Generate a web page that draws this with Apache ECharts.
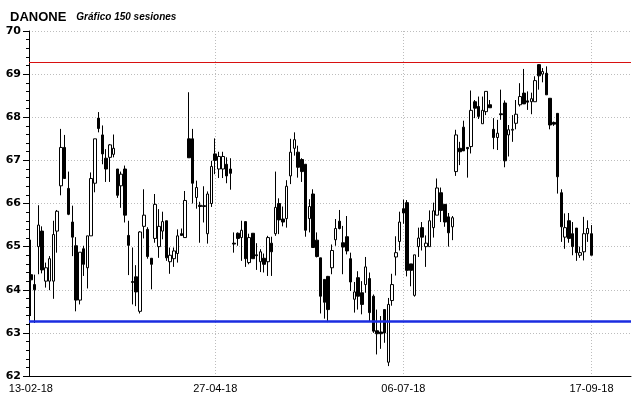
<!DOCTYPE html>
<html>
<head>
<meta charset="utf-8">
<script src="https://cdn.jsdelivr.net/npm/echarts@6/dist/echarts.min.js"></script>
<style>
  html, body { margin: 0; padding: 0; background: #fff; }
  #chart { width: 640px; height: 398px; }
</style>
</head>
<body>
<div id="chart"></div>
<script>
// 150 sesiones, DANONE
const opens = [
  64.35, 64.12, 65.0, 65.36, 64.2, 64.2, 64.2, 65.36, 66.41, 67.3,
  66.35, 65.57, 65.02, 63.76, 64.95, 64.51, 65.25, 66.47, 67.98, 67.59,
  67.05, 67.07, 67.14, 66.8, 66.41, 66.8, 65.26, 64.19, 64.3, 63.5,
  65.47, 65.4, 64.73, 65.19, 65.0, 65.36, 65.6, 64.65, 64.72, 64.84,
  65.3, 65.21, 67.5, 67.5, 66.14, 65.96, 65.95, 65.3, 66.0, 67.15,
  66.8, 66.8, 66.91, 66.8, 65.08, 65.31, 65.21, 65.58, 64.63, 65.31,
  64.81, 64.65, 64.73, 64.65, 65.08, 65.3, 66.0, 65.64, 65.65, 66.64,
  67.28, 67.19, 67.02, 66.91, 65.65, 66.22, 65.15, 64.74, 64.24, 64.31,
  64.51, 65.16, 65.59, 65.09, 65.23, 64.72, 63.78, 64.28, 63.93, 64.12,
  64.26, 63.85, 63.05, 63.02, 63.54, 62.32, 63.75, 64.76, 65.12, 65.88,
  66.02, 64.6, 63.87, 65.0, 65.44, 65.0, 65.0, 65.44, 65.73, 66.25,
  65.98, 65.69, 65.46, 66.74, 67.28, 67.77, 67.3, 67.32, 68.36, 68.25,
  67.85, 68.13, 68.29, 67.72, 67.53, 68.08, 68.33, 67.59, 67.7, 67.86,
  68.29, 68.56, 68.38, 68.36, 68.36, 69.22, 69.0, 69.02, 68.44, 67.88,
  68.09, 66.25, 65.22, 65.6, 65.3, 65.43, 64.8, 64.88, 65.3, 65.3
];
const closes = [
  64.23, 64.0, 65.5, 64.46, 64.51, 64.72, 65.28, 65.82, 67.3, 66.58,
  65.75, 65.22, 63.76, 64.87, 64.59, 65.25, 66.58, 67.5, 67.74, 67.15,
  66.8, 67.36, 67.28, 66.19, 66.68, 65.73, 65.03, 64.17, 63.95, 65.34,
  65.73, 64.77, 64.59, 65.98, 65.47, 65.58, 64.74, 64.8, 64.9, 65.25,
  65.26, 66.07, 67.06, 66.47, 66.37, 65.93, 65.93, 66.22, 66.86, 67.0,
  67.09, 67.09, 66.64, 66.7, 65.06, 65.19, 65.38, 64.72, 65.21, 64.72,
  64.79, 64.88, 64.59, 65.21, 64.88, 65.91, 65.62, 65.57, 66.4, 67.19,
  67.48, 66.84, 66.74, 65.38, 65.93, 64.98, 64.77, 63.85, 63.71, 63.54,
  64.91, 65.42, 65.42, 64.99, 64.9, 64.18, 63.95, 63.85, 63.66, 64.53,
  63.47, 63.04, 62.98, 62.98, 63.0, 63.66, 64.12, 64.86, 65.57, 65.78,
  64.45, 64.45, 64.81, 65.2, 65.22, 65.08, 65.6, 65.83, 66.36, 65.84,
  65.57, 65.32, 65.67, 67.59, 67.2, 67.22, 67.27, 68.16, 68.21, 68.02,
  68.16, 68.6, 68.22, 67.53, 67.63, 68.06, 66.99, 67.71, 67.72, 68.07,
  68.48, 68.31, 68.35, 68.43, 68.85, 68.96, 69.06, 68.52, 67.82, 67.84,
  66.62, 65.46, 65.44, 65.19, 65.0, 64.86, 64.86, 65.3, 65.42, 64.8
];
const lows = [
  63.39, 63.23, 64.36, 64.38, 64.05, 63.99, 63.79, 64.86, 66.19, 66.57,
  65.73, 64.78, 63.5, 63.66, 64.32, 64.03, 65.25, 66.26, 67.65, 66.91,
  66.5, 66.5, 67.07, 66.13, 65.9, 65.56, 64.34, 63.66, 63.62, 63.45,
  65.19, 64.72, 64.01, 65.09, 64.74, 65.17, 64.67, 64.37, 64.53, 64.63,
  65.26, 65.21, 67.06, 66.0, 65.88, 65.09, 65.56, 65.07, 65.92, 66.68,
  66.59, 66.59, 66.47, 66.32, 64.86, 65.02, 64.67, 64.53, 64.59, 64.72,
  64.46, 64.41, 64.4, 64.32, 64.32, 65.25, 65.29, 65.47, 65.44, 66.45,
  67.11, 66.6, 66.5, 65.23, 65.33, 64.98, 64.75, 63.45, 63.33, 63.25,
  64.36, 65.02, 65.4, 64.36, 64.82, 63.97, 63.47, 63.54, 63.43, 63.93,
  63.27, 63.0, 62.5, 62.63, 62.77, 62.23, 63.63, 64.33, 64.91, 65.53,
  64.31, 64.08, 63.84, 64.76, 64.91, 64.53, 65.0, 65.21, 65.73, 65.57,
  65.46, 65.0, 65.15, 66.64, 66.89, 67.22, 66.6, 67.16, 67.98, 67.96,
  67.85, 68.05, 68.22, 67.26, 67.24, 67.94, 66.84, 67.09, 67.43, 67.72,
  68.25, 68.31, 68.17, 68.07, 68.36, 68.64, 68.81, 68.52, 67.72, 67.8,
  66.23, 65.11, 64.95, 65.09, 64.8, 64.67, 64.74, 64.68, 65.11, 64.8
];
const highs = [
  65.16, 64.35, 65.96, 65.47, 64.63, 64.78, 65.6, 65.85, 67.73, 67.59,
  66.74, 65.95, 65.22, 64.87, 65.02, 65.25, 66.72, 67.5, 68.12, 67.81,
  67.26, 67.38, 67.6, 66.8, 66.74, 66.88, 65.6, 64.98, 64.57, 65.36,
  66.33, 65.45, 64.73, 66.22, 65.87, 65.81, 65.6, 64.98, 64.98, 65.4,
  65.42, 66.29, 68.58, 67.73, 66.53, 66.04, 66.4, 66.28, 66.99, 67.51,
  67.2, 67.2, 67.07, 67.05, 65.33, 65.33, 65.6, 65.58, 65.3, 65.31,
  65.08, 64.94, 64.84, 65.25, 65.23, 66.74, 66.12, 65.93, 66.54, 67.5,
  67.65, 67.34, 67.05, 66.91, 66.1, 66.33, 65.33, 64.74, 64.24, 64.32,
  65.05, 65.64, 65.85, 65.48, 65.71, 64.86, 64.18, 64.43, 64.2, 64.76,
  64.4, 63.89, 63.54, 63.39, 63.54, 63.81, 64.37, 65.24, 65.81, 66.09,
  66.08, 64.6, 64.81, 65.44, 65.57, 65.26, 65.84, 66.02, 66.58, 66.37,
  65.98, 65.78, 65.71, 67.71, 67.43, 67.92, 67.3, 68.62, 68.4, 68.48,
  68.48, 68.6, 68.4, 67.98, 67.94, 68.64, 68.39, 67.82, 68.05, 68.4,
  68.79, 69.12, 68.6, 68.57, 68.95, 69.23, 69.14, 69.18, 68.44, 67.9,
  68.09, 66.33, 65.77, 65.78, 65.57, 65.43, 65.0, 65.69, 65.61, 65.5
];
// posiciones de las fechas en el eje (índice de sesión)
const tickIndex = [0, 49, 99, 149];
const tickLabels = ['13-02-18', '27-04-18', '06-07-18', '17-09-18'];
const resistance = 69.27;
const support = 63.27;
const slots = 160; // 150 sesiones + hueco a la derecha

const categories = Array.from({ length: slots }, (_, i) => String(i));
const candles = opens.map((o, i) => [o, closes[i], lows[i], highs[i]]);
const isTick = idx => tickIndex.indexOf(idx) >= 0;
const gridColor = '#bdbdbd';

const chart = echarts.init(document.getElementById('chart'), null, { renderer: 'canvas' });
chart.setOption({
  animation: false,
  backgroundColor: '#fff',
  title: {
    left: 5,
    top: 3,
    text: '{a|DANONE}  {b|Gráfico 150 sesiones}',
    textStyle: {
      rich: {
        a: { fontFamily: 'Liberation Sans', fontWeight: 'bold', fontSize: 13, color: '#000' },
        b: { fontFamily: 'Liberation Sans', fontStyle: 'italic', fontSize: 10, color: '#000' }
      }
    }
  },
  grid: { left: 29, right: 9, top: 31, bottom: 22 },
  xAxis: {
    type: 'category',
    data: categories,
    boundaryGap: true,
    axisLine: { lineStyle: { color: '#000', width: 1 } },
    axisTick: {
      alignWithLabel: true,
      length: 4,
      interval: idx => isTick(idx),
      lineStyle: { color: '#000' }
    },
    axisLabel: {
      interval: idx => isTick(idx),
      formatter: (v, idx) => tickLabels[tickIndex.indexOf(idx)] || '',
      fontFamily: 'Liberation Sans',
      fontSize: 11,
      color: '#000',
      margin: 7
    },
    splitLine: {
      show: true,
      alignWithLabel: true,
      interval: idx => idx > 0 && isTick(idx),
      lineStyle: { color: gridColor, type: [1, 2], width: 1 }
    }
  },
  yAxis: {
    type: 'value',
    min: 62,
    max: 70,
    interval: 1,
    axisLine: { show: true, lineStyle: { color: '#000', width: 1 } },
    axisTick: { show: true, length: 6, lineStyle: { color: '#000' } },
    minorTick: { show: true, splitNumber: 5, length: 3, lineStyle: { color: '#000' } },
    axisLabel: {
      fontFamily: 'DejaVu Sans',
      fontWeight: 'bold',
      fontSize: 11,
      color: '#000',
      margin: 8
    },
    splitLine: { show: true, lineStyle: { color: gridColor, type: [1, 2], width: 1 } }
  },
  series: [{
    type: 'candlestick',
    data: candles,
    barWidth: 3,
    itemStyle: {
      color: '#fff',
      color0: '#000',
      borderColor: '#000',
      borderColor0: '#000',
      borderWidth: 1
    },
    markLine: {
      silent: true,
      symbol: 'none',
      label: { show: false },
      data: [
        { yAxis: resistance, lineStyle: { color: '#d81010', type: 'solid', width: 1 } },
        { yAxis: support, lineStyle: { color: '#1a2ce0', type: 'solid', width: 2.5 } }
      ]
    }
  }]
});
</script>
</body>
</html>
